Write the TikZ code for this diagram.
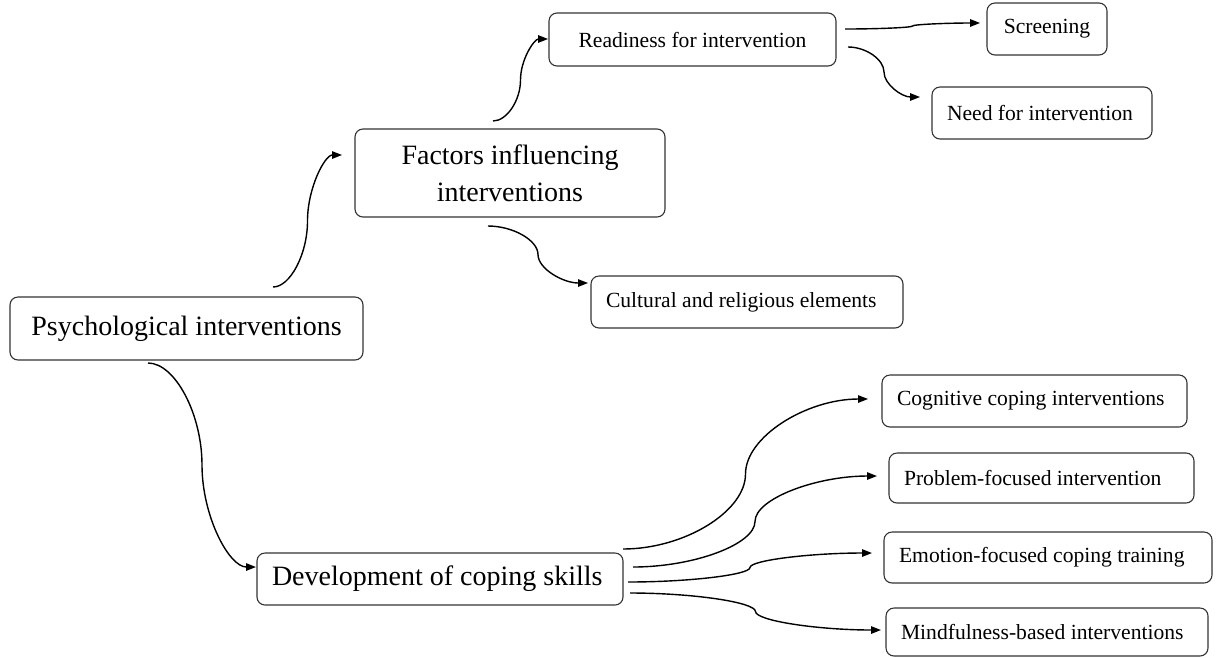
\documentclass[tikz,border=0pt]{standalone}
\usepackage{fontspec}
\setmainfont{Liberation Serif}
\usetikzlibrary{arrows.meta,calc}
\tikzset{
  boxbase/.style={draw=black!80, line width=1.1pt, rounded corners=8pt, inner ysep=0pt, inner xsep=15pt},
  bigbox/.style={boxbase, font=\fontsize{28}{37}\selectfont},
  smallbox/.style={boxbase, font=\fontsize{21.6}{26}\selectfont},
  conn/.style={line width=1.4pt, -{Triangle[length=10pt,width=7.5pt]}},
  cc/.style={to path={let \p1=(\tikztostart), \p2=(\tikztotarget) in
     .. controls ({(3*\x1+\x2)/4},\y1) and ({(\x1+\x2)/2},{(3*\y1+\y2)/4}) .. ({(\x1+\x2)/2},{(\y1+\y2)/2})
     .. controls ({(\x1+\x2)/2},{(\y1+3*\y2)/4}) and ({(\x1+3*\x2)/4},\y2) .. (\tikztotarget)}}
}
\begin{document}
\begin{tikzpicture}[x=1pt,y=-1pt]
\useasboundingbox (0,0) rectangle (1217,657);
% boxes
\node[bigbox, minimum width=353, minimum height=63] (psy) at (186.5,328.5) {Psychological interventions};
\node[bigbox, minimum width=310, minimum height=88, align=center] (fac) at (510,173) {Factors influencing\\interventions};
\node[smallbox, minimum width=287, minimum height=53] (read) at (692.5,39.5) {Readiness for intervention};
\node[smallbox, minimum width=120, minimum height=52] (scr) at (1047,29) {Screening};
\node[smallbox, minimum width=220, minimum height=52] (need) at (1042,113) {\makebox[190pt][l]{Need for intervention}};
\node[smallbox, minimum width=312, minimum height=52] (cult) at (747,302) {\makebox[282pt][l]{Cultural and religious elements}};
\node[bigbox, minimum width=366, minimum height=52] (dev) at (440,579) {\makebox[336pt][l]{Development of coping skills}};
\node[smallbox, minimum width=305, minimum height=52] (cog) at (1034.5,401) {\makebox[275pt][l]{Cognitive coping interventions}};
\node[smallbox, minimum width=305, minimum height=50] (prob) at (1041.5,478) {\makebox[275pt][l]{Problem-focused intervention}};
\node[smallbox, minimum width=328, minimum height=51] (emo) at (1048,557.5) {\makebox[298pt][l]{Emotion-focused coping training}};
\node[smallbox, minimum width=322, minimum height=48] (mind) at (1047,632) {\makebox[292pt][l]{Mindfulness-based interventions}};
% connector ends
\coordinate (s1) at (273,287);  \coordinate (t1) at (342,155);
\coordinate (s2) at (148,363);  \coordinate (t2) at (256,567);
\coordinate (s3) at (493,121);  \coordinate (t3) at (548,39);
\coordinate (s4) at (488,226);  \coordinate (t4) at (588,283);
\coordinate (s5) at (845,29);   \coordinate (t5) at (980,23);
\coordinate (s6) at (848,47);   \coordinate (t6) at (920,97);
\coordinate (s7) at (623,549);  \coordinate (t7) at (868,399);
\coordinate (s8) at (633,567);  \coordinate (t8) at (877,476);
\coordinate (s9) at (628,582);  \coordinate (t9) at (872,553);
\coordinate (s10) at (630,593); \coordinate (t10) at (881,630);
% connectors
\draw[conn] (s1) to[cc] (t1);
\draw[conn] (s2) to[cc] (t2);
\draw[conn] (s3) to[cc] (t3);
\draw[conn] (s4) to[cc] (t4);
\draw[conn] (s5) to[cc] (t5);
\draw[conn] (s6) to[cc] (t6);
\draw[conn] (s7) to[cc] (t7);
\draw[conn] (s8) to[cc] (t8);
\draw[conn] (s9) to[cc] (t9);
\draw[conn] (s10) to[cc] (t10);
\end{tikzpicture}
\end{document}
